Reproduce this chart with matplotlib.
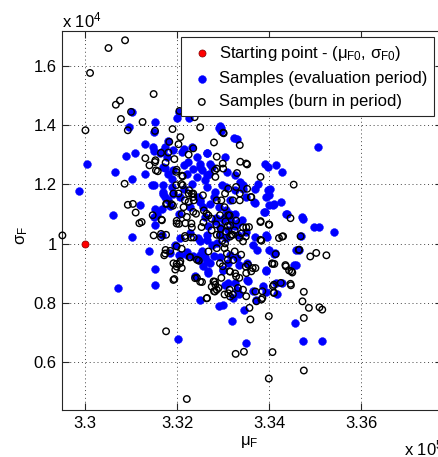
import matplotlib
matplotlib.use('Agg')
import matplotlib.pyplot as plt

plt.rcParams['font.family'] = ['Liberation Sans', 'DejaVu Sans']
plt.rcParams['mathtext.fontset'] = 'custom'
plt.rcParams['mathtext.rm'] = 'Liberation Sans'
plt.rcParams['mathtext.it'] = 'Liberation Sans'
plt.rcParams['mathtext.bf'] = 'Liberation Sans:bold'
plt.rcParams['font.size'] = 12

# ---- data (mu in units of 1e5, sigma in units of 1e4) ----
start_point = [(3.3000, 1.000)]

eval_points = [
    (3.2987, 1.178), (3.3004, 1.267), (3.3065, 1.243), (3.3060, 1.095), (3.3088, 1.297), (3.3096, 1.394),
    (3.3102, 1.445), (3.3109, 1.307), (3.3103, 1.219), (3.3120, 1.129), (3.3131, 1.336), (3.3130, 1.236),
    (3.3145, 1.197), (3.3153, 1.409), (3.3150, 1.377), (3.3147, 1.327), (3.3163, 1.304), (3.3174, 1.327),
    (3.3178, 1.293), (3.3170, 1.259), (3.3181, 1.236), (3.3192, 1.247), (3.3189, 1.191), (3.3170, 1.174),
    (3.3174, 1.157), (3.3167, 1.117), (3.3185, 1.127), (3.3203, 1.445), (3.3192, 1.317), (3.3210, 1.310),
    (3.3223, 1.276), (3.3232, 1.327), (3.3243, 1.293), (3.3250, 1.270), (3.3254, 1.247), (3.3265, 1.304),
    (3.3272, 1.270), (3.3243, 1.225), (3.3261, 1.214), (3.3232, 1.202), (3.3250, 1.146), (3.3272, 1.134),
    (3.3279, 1.157), (3.3261, 1.089), (3.3283, 1.078), (3.3270, 1.236), (3.3221, 1.236), (3.3192, 1.168),
    (3.3207, 1.157), (3.3181, 1.148), (3.3156, 1.101), (3.3149, 1.089), (3.3203, 1.101), (3.3225, 1.425),
    (3.3290, 1.391),
    (3.3506, 1.327), (3.3296, 1.389), (3.3324, 1.355), (3.3303, 1.293), (3.3391, 1.268), (3.3397, 1.259),
    (3.3414, 1.264), (3.3428, 1.242), (3.3375, 1.202), (3.3368, 1.185), (3.3398, 1.181), (3.3325, 1.230),
    (3.3336, 1.208), (3.3343, 1.185), (3.3350, 1.157), (3.3368, 1.137), (3.3400, 1.163), (3.3400, 1.132),
    (3.3408, 1.132), (3.3426, 1.140), (3.3390, 1.106), (3.3437, 1.100), (3.3473, 1.084), (3.3497, 1.056),
    (3.3508, 1.056), (3.3541, 1.041), (3.3306, 1.191), (3.3314, 1.100), (3.3325, 1.100), (3.3306, 1.112),
    (3.3299, 1.084), (3.3317, 1.078), (3.3335, 1.072),
    (3.3468, 1.025), (3.3393, 1.030), (3.3399, 0.980), (3.3412, 0.968), (3.3465, 0.980), (3.3393, 0.909),
    (3.3457, 0.929), (3.3428, 0.868), (3.3417, 0.831), (3.3319, 0.739), (3.3350, 0.666), (3.3473, 0.674),
    (3.3515, 0.672), (3.3455, 0.733),
    (3.3299, 0.913), (3.3325, 0.868), (3.3321, 0.817), (3.3335, 0.829), (3.3346, 0.778), (3.3364, 0.840),
    (3.3372, 0.812), (3.3386, 0.857), (3.3354, 0.873), (3.3310, 0.868), (3.3299, 0.795), (3.3306, 1.019),
    (3.3332, 1.030), (3.3350, 1.041), (3.3364, 0.997), (3.3314, 0.963), (3.3335, 0.929),
    (3.3071, 0.850), (3.3103, 1.022), (3.3138, 0.976), (3.3152, 0.914), (3.3152, 0.860), (3.3204, 0.961),
    (3.3185, 0.969), (3.3207, 1.019), (3.3201, 0.680), (3.3221, 0.972), (3.3234, 0.957), (3.3247, 0.946),
    (3.3254, 0.974), (3.3265, 0.941), (3.3257, 0.924), (3.3268, 0.907), (3.3239, 0.890), (3.3250, 0.812),
    (3.3290, 0.789), (3.3279, 0.957), (3.3250, 1.008), (3.3265, 1.030), (3.3286, 1.002),
    (3.3199, 1.425), (3.3293, 1.397), (3.3296, 1.380), (3.3329, 1.354), (3.3181, 1.346), (3.3149, 1.312),
    (3.3170, 1.312), (3.3264, 1.307), (3.3214, 1.318),
    (3.3149, 1.197), (3.3170, 1.197), (3.3170, 1.169), (3.3152, 1.118), (3.3152, 1.062), (3.3174, 1.256),
    (3.3235, 1.253), (3.3250, 1.258), (3.3264, 1.230), (3.3275, 1.258), (3.3308, 1.242), (3.3297, 1.197),
    (3.3264, 1.191), (3.3282, 1.174), (3.3246, 1.157), (3.3250, 1.141), (3.3257, 1.124), (3.3228, 1.124),
    (3.3290, 1.124), (3.3315, 1.146), (3.3326, 1.180), (3.3304, 1.090), (3.3293, 1.056), (3.3329, 1.068),
    (3.3214, 1.264), (3.3188, 1.219), (3.3214, 1.185),
    (3.3401, 1.183), (3.3342, 1.197), (3.3392, 1.157), (3.3410, 1.135), (3.3388, 1.107), (3.3438, 1.101),
    (3.3471, 1.090), (3.3367, 1.141),
    (3.3167, 1.029), (3.3196, 0.996), (3.3206, 0.962), (3.3221, 0.962), (3.3250, 0.962), (3.3228, 1.035),
    (3.3246, 1.018), (3.3264, 1.012), (3.3275, 0.996), (3.3261, 0.956), (3.3271, 0.934), (3.3268, 0.900),
    (3.3293, 0.956), (3.3300, 0.911), (3.3311, 0.934), (3.3329, 0.951), (3.3304, 0.861), (3.3329, 0.844),
    (3.3370, 1.024), (3.3396, 1.024), (3.3374, 0.979), (3.3410, 0.967), (3.3457, 0.979), (3.3453, 0.928),
    (3.3392, 0.911), (3.3352, 0.934), (3.3352, 0.878), (3.3414, 0.867), (3.3392, 0.838),
    (3.3285, 1.085), (3.3310, 1.045), (3.3325, 1.060), (3.3340, 1.080), (3.3268, 1.060), (3.3292, 1.030),
]

burn_points = [
    (3.3051, 1.659), (3.3087, 1.685), (3.3011, 1.575), (3.3149, 1.504), (3.3067, 1.468), (3.3076, 1.482),
    (3.3100, 1.444), (3.3078, 1.420), (3.3093, 1.382), (3.3001, 1.382), (3.3125, 1.410), (3.3152, 1.380),
    (3.3190, 1.386), (3.3238, 1.426), (3.3250, 1.392), (3.3280, 1.341), (3.3286, 1.293), (3.3286, 1.253),
    (3.3131, 1.288), (3.3153, 1.281), (3.3158, 1.244), (3.3183, 1.343), (3.3203, 1.335), (3.3207, 1.359),
    (3.3165, 1.306), (3.3194, 1.285), (3.3225, 1.300), (3.3235, 1.321), (3.3175, 1.273), (3.3211, 1.229),
    (3.3209, 1.201), (3.3198, 1.242), (3.3086, 1.202), (3.3093, 1.131), (3.3104, 1.134), (3.3110, 1.105),
    (3.3118, 1.069), (3.3166, 1.081), (3.3176, 1.134), (3.3191, 1.128), (3.3214, 1.123), (3.3210, 1.100),
    (3.3199, 1.077), (3.3217, 1.146), (3.3232, 1.168), (3.3236, 1.146), (3.3256, 1.163), (3.3258, 1.112),
    (3.3268, 1.095), (3.3286, 1.146), (3.3283, 1.225), (3.3226, 1.180), (3.3241, 1.101), (3.3204, 1.067),
    (3.3218, 1.069), (3.3232, 1.055), (3.3257, 1.072),
    (3.3301, 1.372), (3.3336, 1.332), (3.3299, 1.270), (3.3337, 1.276), (3.3350, 1.270), (3.3381, 1.225),
    (3.3453, 1.199), (3.3330, 1.238), (3.3328, 1.191), (3.3361, 1.157), (3.3336, 1.146), (3.3381, 1.076),
    (3.3399, 1.065), (3.3446, 1.086), (3.3314, 1.095), (3.3328, 1.078), (3.3350, 1.055), (3.3343, 1.055),
    (3.3296, 1.146), (3.3303, 1.123), (3.3321, 1.146),
    (3.3468, 1.025), (3.3430, 1.025), (3.3421, 1.019), (3.3383, 1.010), (3.3414, 0.965), (3.3465, 0.980),
    (3.3489, 0.957), (3.3502, 0.969), (3.3524, 0.961), (3.3407, 0.932), (3.3411, 0.932), (3.3436, 0.924),
    (3.3443, 0.910), (3.3448, 0.907), (3.3425, 0.868), (3.3447, 0.860), (3.3408, 0.857), (3.3410, 0.834),
    (3.3475, 0.838), (3.3472, 0.806), (3.3486, 0.784), (3.3509, 0.786), (3.3515, 0.778), (3.3475, 0.750),
    (3.3399, 0.756), (3.3359, 0.745), (3.3345, 0.636), (3.3327, 0.629), (3.3407, 0.635), (3.3475, 0.573),
    (3.3399, 0.546), (3.3776, 0.686),
    (3.3299, 0.924), (3.3314, 0.907), (3.3328, 0.890), (3.3335, 0.885), (3.3350, 0.901), (3.3361, 0.907),
    (3.3354, 0.929), (3.3364, 0.918), (3.3332, 0.851), (3.3343, 0.845), (3.3350, 0.823), (3.3321, 0.829),
    (3.3314, 0.845), (3.3357, 0.784), (3.3372, 0.806), (3.3383, 0.812), (3.3385, 0.840), (3.3306, 1.041),
    (3.3321, 1.030), (3.3303, 0.985), (3.3325, 0.974), (3.3343, 1.008), (3.3339, 0.963), (3.3310, 0.946),
    (3.3296, 0.885), (3.3303, 0.829),
    (3.2951, 1.028), (3.3149, 1.028), (3.3165, 1.022), (3.3176, 1.030), (3.3175, 0.979), (3.3172, 0.961),
    (3.3199, 0.991), (3.3210, 0.983), (3.3194, 0.881), (3.3196, 0.913), (3.3210, 0.918), (3.3199, 0.932),
    (3.3207, 0.941), (3.3218, 1.019), (3.3230, 1.021), (3.3236, 1.021), (3.3228, 0.954), (3.3247, 0.943),
    (3.3243, 0.885), (3.3254, 0.871), (3.3265, 0.817), (3.3279, 0.873), (3.3283, 0.862), (3.3286, 0.845),
    (3.3280, 0.840), (3.3290, 0.851), (3.3268, 0.974), (3.3286, 1.030), (3.3176, 0.705), (3.3221, 0.477),
    (3.3205, 1.447), (3.3300, 1.374), (3.3181, 1.307),
    (3.3154, 1.247), (3.3140, 1.264), (3.3199, 1.249), (3.3212, 1.227), (3.3198, 1.197), (3.3212, 1.197),
    (3.3192, 1.169), (3.3203, 1.169), (3.3225, 1.169), (3.3235, 1.169), (3.3178, 1.135), (3.3188, 1.133),
    (3.3225, 1.141), (3.3235, 1.157), (3.3282, 1.247), (3.3300, 1.253), (3.3311, 1.185), (3.3304, 1.169),
    (3.3264, 1.101), (3.3275, 1.084), (3.3293, 1.096), (3.3311, 1.096), (3.3315, 1.062), (3.3235, 1.107),
    (3.3221, 1.090), (3.3231, 1.068), (3.3253, 1.056), (3.3199, 1.068), (3.3147, 1.096), (3.3167, 1.079),
    (3.3123, 1.073), (3.3152, 1.275), (3.3336, 1.169),
    (3.3352, 1.267), (3.3352, 1.185), (3.3360, 1.157), (3.3381, 1.073), (3.3400, 1.064), (3.3356, 1.056),
    (3.3165, 1.033), (3.3217, 1.026), (3.3174, 0.967), (3.3185, 0.976), (3.3192, 0.934), (3.3206, 0.934),
    (3.3199, 0.923), (3.3228, 0.955), (3.3243, 0.946), (3.3192, 0.878), (3.3239, 0.884), (3.3250, 0.872),
    (3.3282, 0.872), (3.3275, 0.855), (3.3282, 0.839), (3.3264, 0.816), (3.3293, 1.029), (3.3304, 1.001),
    (3.3315, 1.024), (3.3286, 0.985), (3.3308, 0.967), (3.3293, 0.934), (3.3322, 0.945), (3.3315, 0.906),
    (3.3326, 0.900), (3.3311, 0.833), (3.3315, 0.822),
    (3.3428, 1.024), (3.3349, 1.024), (3.3381, 1.013), (3.3464, 0.979), (3.3406, 0.934), (3.3435, 0.928),
    (3.3450, 0.903), (3.3370, 0.918), (3.3349, 0.923), (3.3446, 0.865), (3.3410, 0.862), (3.3410, 0.836),
    (3.3370, 0.839), (3.3385, 0.817),
    (3.3295, 1.050), (3.3310, 1.060), (3.3325, 1.045), (3.3340, 1.035), (3.3305, 1.075), (3.3318, 1.030),
    (3.3285, 1.065), (3.3275, 1.045), (3.3335, 1.020), (3.3298, 1.010),
]

mu_ticks = [3.30, 3.32, 3.34, 3.36]
mu_tick_labels = ['3.3', '3.32', '3.34', '3.36']
sigma_ticks = [0.6, 0.8, 1.0, 1.2, 1.4, 1.6]
sigma_tick_labels = ['0.6', '0.8', '1', '1.2', '1.4', '1.6']
mu_limits = (3.2951, 3.3776)
sigma_limits = (0.44, 1.718)
MU_SCALE = 1e5
SIGMA_SCALE = 1e4

labels = [r'Starting point - ($\mu_{F0}$, $\sigma_{F0}$)',
          'Samples (evaluation period)',
          'Samples (burn in period)']


def split(points):
    return ([p[0] * MU_SCALE for p in points], [p[1] * SIGMA_SCALE for p in points])


W, H = 439, 457
fig = plt.figure(figsize=(W / 100, H / 100), dpi=100)
ax = fig.add_axes([62.4 / W, 47 / H, 380.1 / W, 379.5 / H])

sx, sy = split(start_point)
ex, ey = split(eval_points)
bx, by = split(burn_points)

h0 = ax.scatter(sx, sy, s=26, c='#ff0000', edgecolors='#800000', linewidths=0.5, zorder=3,
                label=labels[0], clip_on=False)
h1 = ax.scatter(ex, ey, s=32, c='#0000ff', edgecolors='#0000ff', linewidths=0.3, zorder=3,
                label=labels[1], clip_on=False)
h2 = ax.scatter(bx, by, s=22, facecolors='none', edgecolors='black', linewidths=1.0, zorder=4,
                label=labels[2], clip_on=False)

ax.set_xlim(mu_limits[0] * MU_SCALE, mu_limits[1] * MU_SCALE)
ax.set_ylim(sigma_limits[0] * SIGMA_SCALE, sigma_limits[1] * SIGMA_SCALE)
ax.set_xticks([t * MU_SCALE for t in mu_ticks])
ax.set_xticklabels(mu_tick_labels)
ax.set_yticks([t * SIGMA_SCALE for t in sigma_ticks])
ax.set_yticklabels(sigma_tick_labels)

ax.tick_params(direction='in', length=5, width=0.8, top=True, right=True,
               labelsize=12, pad=4, color='#262626', labelcolor='black')
for sp in ax.spines.values():
    sp.set_color('#262626')
    sp.set_linewidth(0.8)

ax.set_axisbelow(True)
ax.grid(True, linestyle=(0, (1, 3)), color='#444444', linewidth=0.7)

ax.set_xlabel(r'$\mu_{F}$', fontsize=12)
ax.xaxis.set_label_coords(0.49, -0.085)
ax.xaxis.label.set_va('center')
ax.set_ylabel(r'$\sigma_{F}$', fontsize=12, rotation=90)
ax.yaxis.set_label_coords(-0.105, 0.46)
ax.yaxis.label.set_va('center')

fig.text(62 / W, 1 - 27 / H, r'x 10$^{4}$', ha='left', va='baseline', fontsize=12)
fig.text(404 / W, 1 - 455 / H, r'x 10$^{5}$', ha='left', va='baseline', fontsize=12)

leg = ax.legend(handles=[h0, h1, h2], labels=labels, loc='upper right',
                bbox_to_anchor=(434 / W, 1 - 37 / H), bbox_transform=fig.transFigure,
                borderaxespad=0, borderpad=0.4, handlelength=1.7, handletextpad=0.18,
                labelspacing=0.5, fancybox=False, framealpha=1, edgecolor='#262626',
                fontsize=12, scatterpoints=1)
leg.get_frame().set_linewidth(0.8)
leg.set_zorder(10)

fig.savefig('out.png', dpi=100)
